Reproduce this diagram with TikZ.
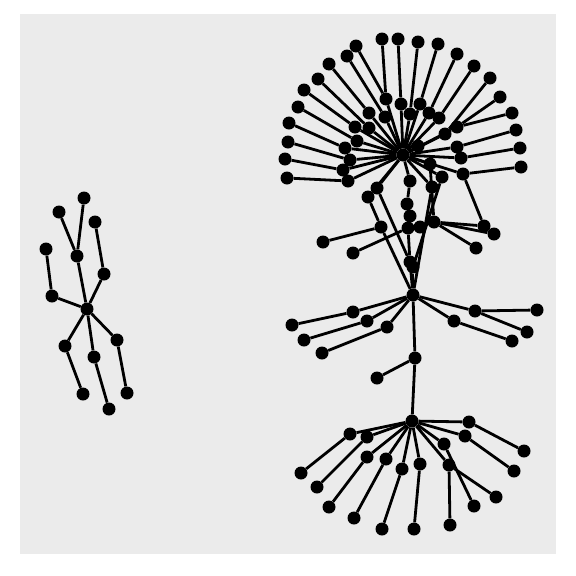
\documentclass[tikz,border=0pt]{standalone}
\usepackage{xcolor}
\usepackage{tikz}
\definecolor{panelGray}{RGB}{235, 235, 235}

\begin{document}
\begin{tikzpicture}[
                x=1pt, y=-1pt,
                vtx/.style={circle, fill=black, inner sep=0pt, minimum size=13pt},
                edge/.style={line width=2.8pt, black}
            ]

                % --- PANEL ---
                \useasboundingbox (0,0) rectangle (576,576);
                \fill[panelGray] (20,14) rectangle (556,554);

                % --- SMALL TREE (LEFT) ---
                \foreach \n/\x/\y in {c0/87/309, r1/77/256, s1/84/198, s2/59/212,
                    r2/104/274, s3/95/222, r3/52/296, s4/46/249,
                    r4/65/346, s5/83/394, r5/94/357, s6/109/409,
                    r6/117/340, s7/127/393}
                    \node[vtx] (\n) at (\x,\y) {};
                \foreach \a/\b in {c0/r1, r1/s1, r1/s2, c0/r2, r2/s3, c0/r3, r3/s4,
                    c0/r4, r4/s5, c0/r5, r5/s6, c0/r6, r6/s7}
                    \draw[edge] (\a) -- (\b);

                % --- TOP FAN ---
                \node[vtx] (h1) at (403,155) {};
                \foreach \n/\x/\y in {o1/287/178, o2/285/159, o3/288/142, o4/289/123,
                    o5/298/107, o6/304/90, o7/318/79, o8/329/64, o9/347/56,
                    o10/356/46, o11/382/39, o12/398/39, o13/418/42, o14/438/44,
                    o15/457/54, o16/474/66, o17/490/78, o18/500/97, o19/512/113,
                    o20/516/130, o21/520/148, o22/521/167}
                    \node[vtx] (\n) at (\x,\y) {};
                \foreach \n/\x/\y in {a1/348/181, a2/343/170, a3/350/160, a4/345/148,
                    a5/357/141, a6/355/127, a7/369/128, a8/369/113, a9/385/117,
                    a10/386/99, a11/401/104, a12/410/114, a13/420/104, a14/429/113,
                    a15/439/118, a16/445/134, a17/457/127, a18/457/147,
                    a19/461/158, a20/463/174, l1/418/146}
                    \node[vtx] (\n) at (\x,\y) {};
                \foreach \a in {a1,a2,a3,a4,a5,a6,a7,a8,a9,a10,a11,a12,a13,a14,
                    a15,a16,a17,a18,a19,a20,l1}
                    \draw[edge] (h1) -- (\a);
                \foreach \a/\b in {a1/o1, a2/o2, a3/o3, a4/o4, a5/o5, a6/o6, a7/o7,
                    a8/o8, a9/o9, a10/o10, a10/o11, a11/o12, a12/o13, a13/o14,
                    a14/o15, a15/o16, a16/o17, a17/o18, a17/o19, a18/o20,
                    a19/o21, a20/o22}
                    \draw[edge] (\a) -- (\b);

                % --- LINKS DOWN TO THE MIDDLE HUB ---
                \node[vtx] (h2) at (413,295) {};
                \foreach \n/\x/\y in {b1/377/188, b2/368/197, b3/432/187, b4/442/177,
                    b5/430/164, b6/410/181, c1/407/204, c2/410/216, c3/408/228,
                    c4/420/227, c5/410/262, c6/413/267, d1/434/222, d2/381/227,
                    e1/484/226, e2/494/234, e3/476/248, f1/323/242, f2/353/253}
                    \node[vtx] (\n) at (\x,\y) {};
                \foreach \a/\b in {h1/b1, h1/b2, h1/b3, h1/b4, h1/b5, h1/b6,
                    b1/c5, b2/d2, d2/h2, b3/h2, b4/c6, b5/d1, b6/c1, c1/c2, c2/c3,
                    c3/c4, c3/c5, c5/h2, c6/h2, c3/f2, d2/f1,
                    d1/e1, d1/e2, d1/e3, a20/e1}
                    \draw[edge] (\a) -- (\b);

                % --- MIDDLE HUB ---
                \foreach \n/\x/\y in {g1/353/312, k1/292/325, g2/367/321, k2/304/340,
                    g3/387/327, k3/322/353, g4/475/311, k4/537/310, k5/527/332,
                    g5/454/321, k6/512/341, g6/415/358, k7/377/378}
                    \node[vtx] (\n) at (\x,\y) {};
                \foreach \a/\b in {h2/g1, g1/k1, h2/g2, g2/k2, h2/g3, g3/k3,
                    h2/g4, g4/k4, g4/k5, h2/g5, g5/k6, h2/g6, g6/k7}
                    \draw[edge] (\a) -- (\b);

                % --- BOTTOM FAN ---
                \node[vtx] (h3) at (412,421) {};
                \draw[edge] (g6) -- (h3);
                \foreach \n/\x/\y in {p1/469/422, q1/524/451, p2/465/436, q2/514/471,
                    p3/444/444, q3/474/506, p4/449/465, q4/496/497, q5/450/525,
                    p5/420/464, q6/414/529, p6/402/469, q7/382/529,
                    p7/386/459, q8/354/518, p8/367/457, q9/329/507,
                    p9/367/437, q10/317/487, p10/350/434, q11/301/473}
                    \node[vtx] (\n) at (\x,\y) {};
                \foreach \a/\b in {p1/q1, p2/q2, p3/q3, p4/q4, p4/q5, p5/q6,
                    p6/q7, p7/q8, p8/q9, p9/q10, p10/q11}
                    \draw[edge] (\a) -- (\b);
                \foreach \a in {p1,p2,p3,p4,p5,p6,p7,p8,p9,p10}
                    \draw[edge] (h3) -- (\a);

                \end{tikzpicture}
\end{document}
